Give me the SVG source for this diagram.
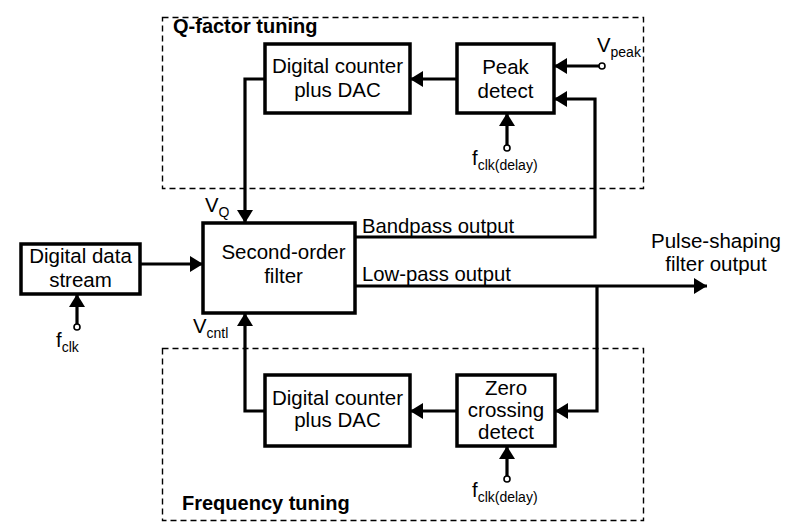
<svg xmlns="http://www.w3.org/2000/svg" width="806" height="532" viewBox="0 0 806 532">
<style>
text{font-family:"Liberation Sans",Arial,sans-serif;fill:#000}
.t{font-size:20.5px;text-anchor:middle}
.l{font-size:20.3px}
.b{font-size:20px;font-weight:bold}
.s{font-size:14px}
.box{fill:#fff;stroke:#000;stroke-width:3.5}
.ln{fill:none;stroke:#000;stroke-width:3.2}
.dash{fill:none;stroke:#000;stroke-width:1.4;stroke-dasharray:6 4}
.pin{fill:#fff;stroke:#000;stroke-width:1.6}
</style>
<defs>
<marker id="ah" markerUnits="userSpaceOnUse" markerWidth="14" markerHeight="16" refX="13" refY="8" orient="auto">
<path d="M0,0 L13,8 L0,16 z" fill="#000"/>
</marker>
</defs>
<rect width="806" height="532" fill="#fff"/>
<g id="q-group">
<rect class="dash" x="162.5" y="17.5" width="481" height="171"/>
<text class="b" x="173" y="33">Q-factor tuning</text>
</g>
<g id="f-group">
<rect class="dash" x="162.5" y="348.5" width="481" height="172"/>
<text class="b" x="182" y="510">Frequency tuning</text>
</g>
<g id="connectors">
<polyline class="ln" points="265,79 245,79 245,223" marker-end="url(#ah)"/>
<line class="ln" x1="457" y1="79" x2="410" y2="79" marker-end="url(#ah)"/>
<line class="ln" x1="599" y1="66" x2="554" y2="66" marker-end="url(#ah)"/>
<polyline class="ln" points="355,237 595,237 595,99 554,99" marker-end="url(#ah)"/>
<line class="ln" x1="507" y1="145" x2="507" y2="113" marker-end="url(#ah)"/>
<line class="ln" x1="140" y1="264" x2="203" y2="264" marker-end="url(#ah)"/>
<line class="ln" x1="77" y1="324" x2="77" y2="294" marker-end="url(#ah)"/>
<line class="ln" x1="355" y1="286" x2="707" y2="286" marker-end="url(#ah)"/>
<polyline class="ln" points="597,286 597,411 555,411" marker-end="url(#ah)"/>
<line class="ln" x1="457" y1="411" x2="410" y2="411" marker-end="url(#ah)"/>
<polyline class="ln" points="265,411 245,411 245,313" marker-end="url(#ah)"/>
<line class="ln" x1="507" y1="476" x2="507" y2="446" marker-end="url(#ah)"/>
<circle class="pin" cx="602" cy="66" r="3"/>
<circle class="pin" cx="507" cy="148" r="3"/>
<circle class="pin" cx="77" cy="327" r="3"/>
<circle class="pin" cx="507" cy="479" r="3"/>
</g>
<g id="dac-top">
<rect class="box" x="265" y="44" width="145" height="69"/>
<text class="t" x="337.5" y="73">Digital counter</text>
<text class="t" x="337.5" y="97">plus DAC</text>
</g>
<g id="peak-detect">
<rect class="box" x="457" y="44" width="97" height="69"/>
<text class="t" x="505.5" y="74">Peak</text>
<text class="t" x="505.5" y="98">detect</text>
</g>
<g id="data-stream">
<rect class="box" x="21" y="244" width="119" height="50"/>
<text class="t" x="80.5" y="263">Digital data</text>
<text class="t" x="80.5" y="287">stream</text>
</g>
<g id="filter">
<rect class="box" x="203" y="223" width="152" height="90"/>
<text class="t" x="283.5" y="259">Second-order</text>
<text class="t" x="283.5" y="283">filter</text>
</g>
<g id="dac-bottom">
<rect class="box" x="265" y="375" width="145" height="71"/>
<text class="t" x="337.5" y="405">Digital counter</text>
<text class="t" x="337.5" y="427">plus DAC</text>
</g>
<g id="zero-crossing">
<rect class="box" x="457" y="375" width="98" height="71"/>
<text class="t" x="506" y="395">Zero</text>
<text class="t" x="506" y="417">crossing</text>
<text class="t" x="506" y="439">detect</text>
</g>
<g id="labels">
<text class="l" x="597" y="52">V<tspan class="s" dy="5">peak</tspan></text>
<text class="l" x="472" y="165">f<tspan class="s" dy="5">clk(delay)</tspan></text>
<text class="l" x="205" y="212">V<tspan class="s" dy="5">Q</tspan></text>
<text class="l" x="193" y="333">V<tspan class="s" dy="5">cntl</tspan></text>
<text class="l" x="56" y="347">f<tspan class="s" dy="5">clk</tspan></text>
<text class="l" x="472" y="497">f<tspan class="s" dy="5">clk(delay)</tspan></text>
<text class="l" x="362" y="233">Bandpass output</text>
<text class="l" x="362" y="281">Low-pass output</text>
<text class="t" x="716" y="248">Pulse-shaping</text>
<text class="t" x="716" y="271">filter output</text>
</g>
</svg>
